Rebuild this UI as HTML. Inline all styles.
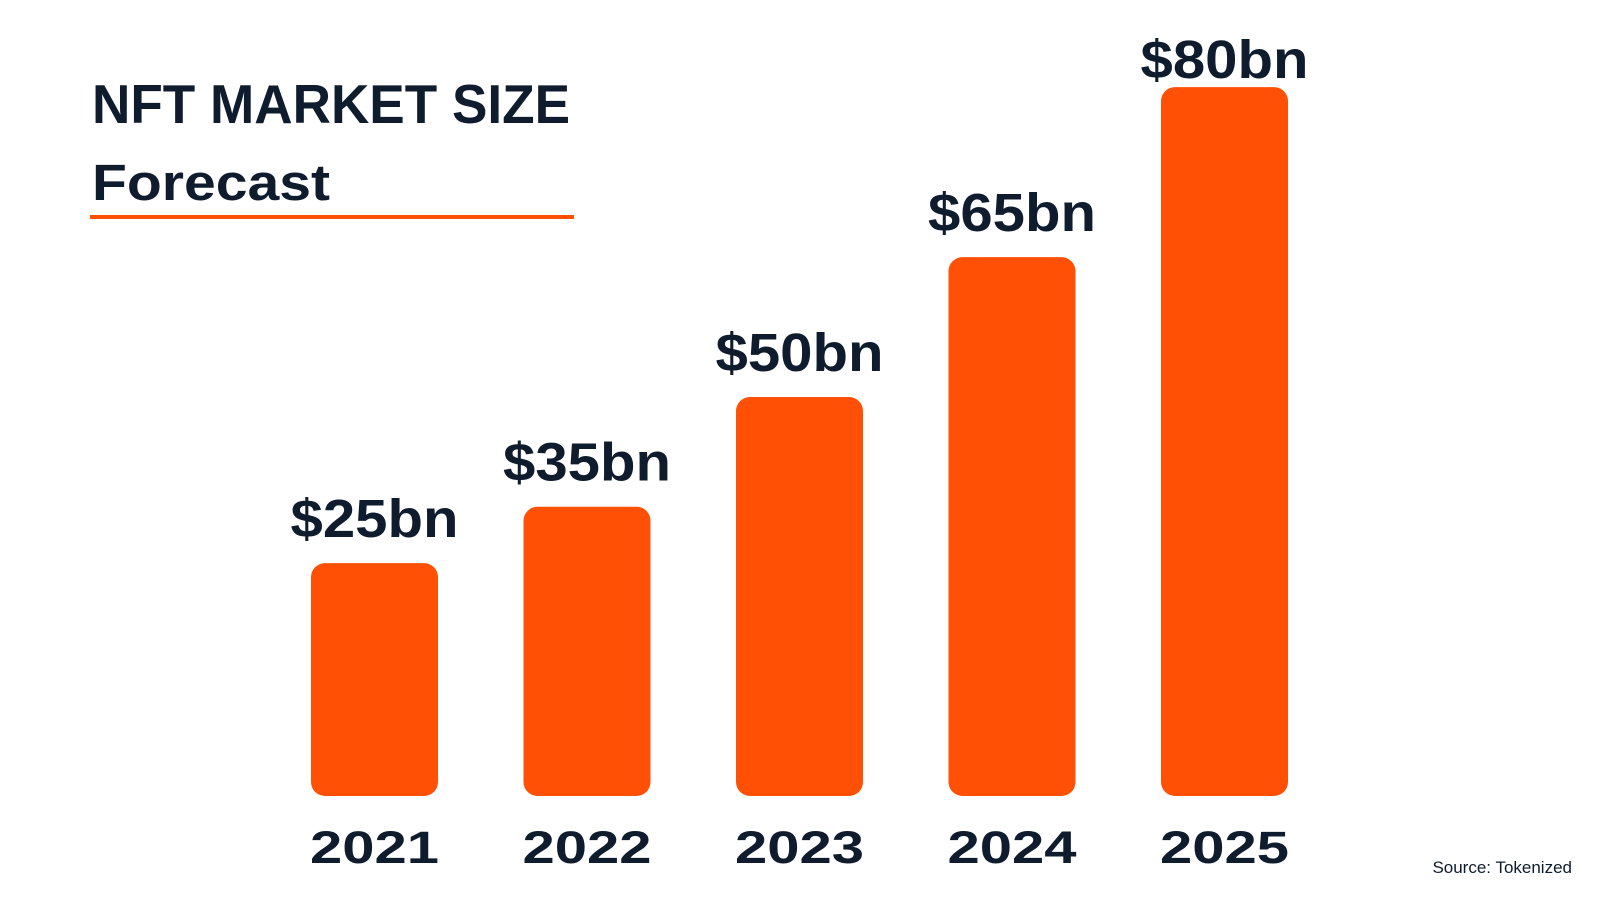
<!DOCTYPE html>
<html><head><meta charset="utf-8"><style>
html,body{margin:0;padding:0;background:#fff;}
svg{display:block;font-family:"Liberation Sans",sans-serif;}
</style></head><body>
<svg id="chart" width="1600" height="900" viewBox="0 0 1600 900">
<text x="92" y="123" font-size="55" font-weight="bold" fill="#0f1c2e" textLength="478" lengthAdjust="spacingAndGlyphs">NFT MARKET SIZE</text>
<text x="92" y="200" font-size="51" font-weight="bold" fill="#0f1c2e" textLength="238" lengthAdjust="spacingAndGlyphs">Forecast</text>
<rect x="90" y="215" width="484" height="4" fill="#ff5005"/>
<text x="1572" y="873" font-size="17" fill="#0f1c2e" text-anchor="end">Source: Tokenized</text>
<g id="bars"></g>
</svg>
<script>
const categories = ["2021","2022","2023","2024","2025"];
const values = [25,35,50,65,80];
const valueLabels = ["$25bn","$35bn","$50bn","$65bn","$80bn"];

const NS="http://www.w3.org/2000/svg";
const baseY=796, barW=127, x0=311, step=212.5;
function xScale(i){return x0+i*step;}
function hScale(v){return 150.5+1.62*v+0.067*v*v;}
const g=document.getElementById('bars');
categories.forEach((c,i)=>{
  const h=hScale(values[i]), x=xScale(i), y=baseY-h;
  const r=document.createElementNS(NS,'rect');
  r.setAttribute('x',x);r.setAttribute('y',y);r.setAttribute('width',barW);r.setAttribute('height',h);
  r.setAttribute('rx',14);r.setAttribute('fill','#ff5005');
  
  
  g.appendChild(r);
  const t=document.createElementNS(NS,'text');
  t.setAttribute('x',x+barW/2);t.setAttribute('y',Math.max(y-26,78));
  t.setAttribute('text-anchor','middle');t.setAttribute('font-size','54');t.setAttribute('font-weight','bold');
  t.setAttribute('fill','#0f1c2e');t.setAttribute('textLength','168');t.setAttribute('lengthAdjust','spacingAndGlyphs');
  t.textContent=valueLabels[i];
  
  
  g.appendChild(t);
  const yl=document.createElementNS(NS,'text');
  yl.setAttribute('x',x+barW/2);yl.setAttribute('y',863);
  yl.setAttribute('text-anchor','middle');yl.setAttribute('font-size','45');yl.setAttribute('font-weight','bold');
  yl.setAttribute('fill','#0f1c2e');yl.setAttribute('textLength','129');yl.setAttribute('lengthAdjust','spacingAndGlyphs');
  yl.textContent=c;
  
  
  g.appendChild(yl);
});
</script>
</body></html>
